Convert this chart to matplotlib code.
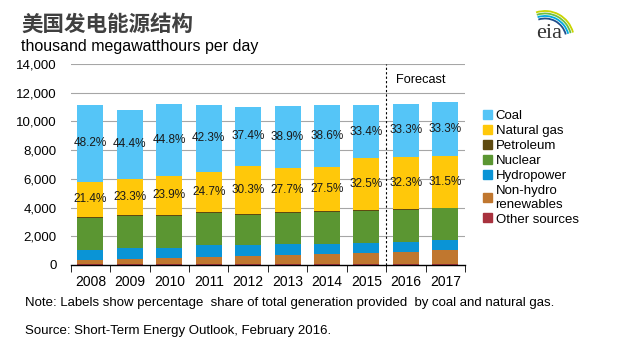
import numpy as np
import matplotlib
matplotlib.use("Agg")
import matplotlib.pyplot as plt
from matplotlib.patches import Patch, Arc

plt.rcParams['font.family'] = ['Liberation Sans', 'Noto Sans CJK SC', 'DejaVu Sans']

# data (thousand megawatthours per day)
years = ['2008', '2009', '2010', '2011', '2012', '2013', '2014', '2015', '2016', '2017']
other = [35, 35, 35, 35, 35, 35, 35, 35, 35, 35]
nonhydro = [320, 390, 460, 530, 600, 670, 740, 810, 850, 1000]
hydro = [690, 740, 720, 830, 740, 790, 720, 720, 750, 700]
nuclear = [2230, 2240, 2220, 2210, 2130, 2150, 2210, 2180, 2190, 2200]
petroleum = [100, 80, 80, 110, 60, 60, 70, 60, 50, 50]
natgas = [2400, 2520, 2690, 2750, 3340, 3070, 3060, 3620, 3630, 3580]
coal = [5400, 4800, 5040, 4710, 4130, 4310, 4300, 3720, 3740, 3780]
coal_pct = ['48.2%', '44.4%', '44.8%', '42.3%', '37.4%', '38.9%', '38.6%', '33.4%', '33.3%', '33.3%']
gas_pct = ['21.4%', '23.3%', '23.9%', '24.7%', '30.3%', '27.7%', '27.5%', '32.5%', '32.3%', '31.5%']

series = [
    ('Other sources', other, '#A8323E'),
    ('Non-hydro\nrenewables', nonhydro, '#C0772F'),
    ('Hydropower', hydro, '#0A94D6'),
    ('Nuclear', nuclear, '#5B9632'),
    ('Petroleum', petroleum, '#5E4A10'),
    ('Natural gas', natgas, '#FFC80A'),
    ('Coal', coal, '#55C5F7'),
]

fig = plt.figure(figsize=(6.2, 3.44), dpi=100)
ax = fig.add_axes([0.114, 0.2297, 0.636, 0.5843])

x = np.arange(len(years))
bottom = np.zeros(len(years))
centers = {}
for name, vals, col in series:
    vals = np.array(vals, dtype=float)
    ax.bar(x, vals, 0.66, bottom=bottom, color=col, zorder=2, linewidth=0)
    centers[name] = bottom + vals / 2
    bottom = bottom + vals

for i in range(len(years)):
    ax.text(x[i], centers['Coal'][i], coal_pct[i], ha='center', va='center',
            fontsize=8.5, color='#1a1a1a', zorder=3)
    ax.text(x[i], centers['Natural gas'][i], gas_pct[i], ha='center', va='center',
            fontsize=8.5, color='#1a1a1a', zorder=3)

ax.set_xlim(-0.5, len(years) - 0.5)
ax.set_ylim(0, 14000)
ax.set_yticks(np.arange(0, 14001, 2000))
ax.set_yticklabels([f'{v:,}' for v in range(0, 14001, 2000)], fontsize=9.5)
for v in range(2000, 14001, 2000):
    ax.axhline(v, color='#A6A6A6', lw=0.8, zorder=0)

ax.set_xticks(x)
ax.set_xticklabels(years, fontsize=10)
ax.set_xticks(np.arange(-0.5, len(years)), minor=True)
ax.tick_params(axis='x', which='major', length=0, pad=7)
ax.tick_params(axis='x', which='minor', length=5, direction='out', color='black')
ax.tick_params(axis='y', length=0, pad=10)
for s in ['left', 'right', 'top']:
    ax.spines[s].set_visible(False)
ax.spines['bottom'].set_color('black')
ax.spines['bottom'].set_linewidth(1)
ax.spines['bottom'].set_zorder(4)

# forecast divider
ax.axvline(7.5, color='black', lw=0.8, ls=(0, (2, 2)), zorder=3, clip_on=False)
ax.text(7.75, 12900, 'Forecast', fontsize=9.2, va='center', ha='left')

# legend
handles = [Patch(color=col, label=name) for name, vals, col in reversed(series)]
fig.legend(handles=handles, loc='upper left', bbox_to_anchor=(0.779, 0.68),
           frameon=False, fontsize=9.5, handlelength=0.65, handleheight=0.65,
           handletextpad=0.3, labelspacing=0.22, borderpad=0, borderaxespad=0)

# titles and notes
fig.text(0.034, 0.93, '美国发电能源结构', fontsize=15.5, fontweight='bold',
         color='#404040', family=['Noto Sans CJK SC', 'DejaVu Sans'], va='center')
fig.text(0.034, 0.866, 'thousand megawatthours per day', fontsize=11.5, va='center')
fig.text(0.040, 0.119, 'Note: Labels show percentage  share of total generation provided  by coal and natural gas.',
         fontsize=9.5, va='center')
fig.text(0.040, 0.038, 'Source: Short-Term Energy Outlook, February 2016.', fontsize=9.5, va='center')

# eia logo
lax = fig.add_axes([530 / 620, 1 - 48 / 344, 50 / 620, 40 / 344])
lax.set_xlim(530, 580)
lax.set_ylim(296, 336)
lax.axis('off')
for r, c in zip([29, 26.5, 24, 21.5], ['#C8D400', '#6CBE45', '#00A9E0', '#1F4E8C']):
    lax.add_patch(Arc((545, 304), 2 * r, 2 * r, theta1=15, theta2=108, color=c, lw=1.3))
lax.text(549, 310, 'eia', fontsize=16, family='Liberation Serif', color='#333333',
         ha='center', va='center')

fig.savefig('out.png', dpi=100)
